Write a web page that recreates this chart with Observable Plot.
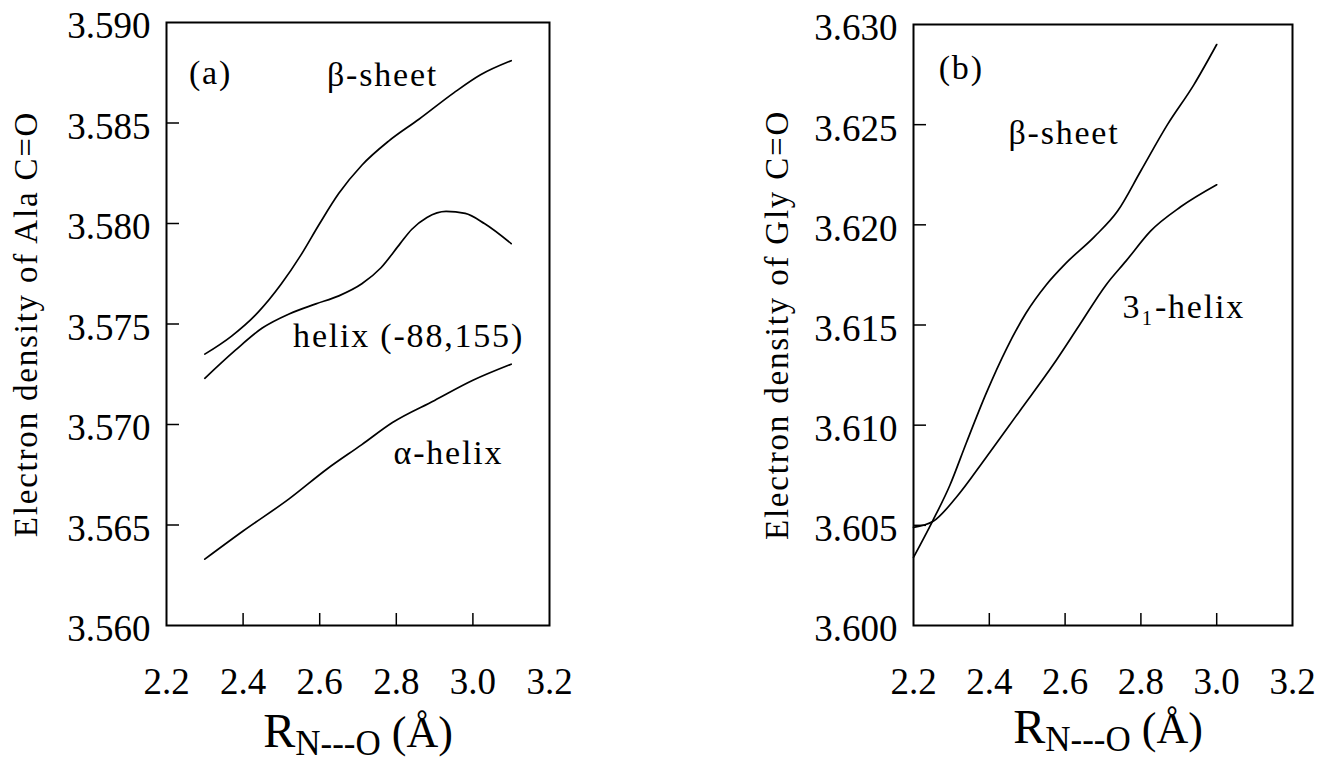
<!DOCTYPE html>
<html>
<head>
<meta charset="utf-8">
<script src="https://cdn.jsdelivr.net/npm/d3@7"></script>
<script src="https://cdn.jsdelivr.net/npm/@observablehq/plot@0.6"></script>
<style>
  html, body { margin: 0; padding: 0; background: #fff; }
  #page { position: relative; width: 1326px; height: 764px; overflow: hidden;
          font-family: "Liberation Serif", "DejaVu Serif", serif; color: #000; }
  .panel { position: absolute; top: 0; }
  #page svg g[aria-label="text"] text { letter-spacing: 1.8px; }
  .xtitle { position: absolute; white-space: nowrap; line-height: 1; font-size: 48px;
            transform: translateX(-50%); }
</style>
</head>
<body>
<div id="page"></div>
<script>
// ---------- data ----------
const xTicks = [2.2, 2.4, 2.6, 2.8, 3.0, 3.2];
const yTicksA = [3.560, 3.565, 3.570, 3.575, 3.580, 3.585, 3.590];
const yTicksB = [3.600, 3.605, 3.610, 3.615, 3.620, 3.625, 3.630];

// panel (a): Ala
const aBetaX  = [2.30, 2.37, 2.44, 2.50, 2.55, 2.60, 2.65, 2.71, 2.78, 2.86, 2.95, 3.02, 3.10];
const aBetaY  = [3.5735, 3.5744, 3.5756, 3.5770, 3.5784, 3.5800, 3.5815, 3.5829, 3.5841, 3.5852, 3.5865, 3.5874, 3.5881];
const aHelX   = [2.30, 2.38, 2.45, 2.52, 2.59, 2.65, 2.71, 2.76, 2.81, 2.84, 2.88, 2.93, 2.98, 3.03, 3.10];
const aHelY   = [3.5723, 3.5737, 3.5748, 3.5755, 3.5760, 3.5764, 3.5770, 3.5778, 3.5790, 3.5797, 3.5803, 3.5806, 3.5805, 3.5800, 3.5790];
const aAlphaX = [2.30, 2.40, 2.52, 2.62, 2.71, 2.79, 2.90, 3.00, 3.10];
const aAlphaY = [3.5633, 3.5647, 3.5663, 3.5678, 3.5690, 3.5701, 3.5712, 3.5722, 3.5730];

// panel (b): Gly
const bBetaX = [2.20, 2.25, 2.296, 2.339, 2.392, 2.445, 2.497, 2.550, 2.603, 2.677, 2.739, 2.800, 2.870, 2.940, 3.00];
const bBetaY = [3.6034, 3.6052, 3.6070, 3.6091, 3.6116, 3.6138, 3.6156, 3.6170, 3.6181, 3.6194, 3.6207, 3.6227, 3.6250, 3.6270, 3.6290];
const b31X   = [2.20, 2.252, 2.313, 2.392, 2.480, 2.568, 2.638, 2.708, 2.761, 2.826, 2.905, 3.00];
const b31Y   = [3.6049, 3.6052, 3.6064, 3.6084, 3.6107, 3.6130, 3.6150, 3.6170, 3.6182, 3.6197, 3.6209, 3.6220];

// in-plot labels
const aLabelText = ["(a)", "β-sheet", "helix (-88,155)", "α-helix"];
const aLabelX    = [2.315, 2.764, 2.832, 2.936];
const aLabelY    = [3.5875, 3.5874, 3.5744, 3.5686];
const bLabelText = ["(b)", "β-sheet", "3\u2081-helix"];
const bLabelX    = [2.326, 2.597, 2.913];
const bLabelY    = [3.6278, 3.6246, 3.6159];

const yTitleA = "Electron density of Ala C=O";
const yTitleB = "Electron density of Gly C=O";
const xTitleMain = "R", xTitleSub = "N---O", xTitleUnit = "(Å)";

// ---------- build ----------
const FONT = "'Liberation Serif', 'DejaVu Serif', serif";
const series = (name, xs, ys) => xs.map((x, i) => ({series: name, x, y: ys[i]}));
const labelRows = (t, xs, ys) => t.map((text, i) => ({text, x: xs[i], y: ys[i]}));

function panel({rows, labels, yDomain, yTicks, yTitle, width, mL, mR, mT, yTitleDx}) {
  const svg = Plot.plot({
    width, height: 700,
    marginLeft: mL, marginRight: mR, marginTop: mT, marginBottom: 75,
    x: {domain: [2.2, 3.2]},
    y: {domain: yDomain},
    style: {background: "white", color: "black", overflow: "visible"},
    marks: [
      Plot.frame({stroke: "black", strokeWidth: 2}),
      Plot.axisX(xTicks.slice(1, -1), {tickSize: 12, dy: -12, fill: "none", strokeWidth: 1.5, label: null}),
      Plot.axisX(xTicks, {tickSize: 0, tickPadding: 42, tickFormat: d3.format(".1f"), fontSize: 37, label: null}),
      Plot.axisY(yTicks.slice(1, -1), {tickSize: 13, dx: 13, fill: "none", strokeWidth: 1.5, label: null}),
      Plot.axisY(yTicks, {tickSize: 0, tickPadding: 16, tickFormat: d3.format(".3f"), fontSize: 37, dy: 4, label: null}),
      Plot.line(rows, {x: "x", y: "y", z: "series", curve: "monotone-x", stroke: "black", strokeWidth: 1.7}),
      Plot.text(labels, {x: "x", y: "y", text: "text", fontSize: 34, fill: "black"}),
      Plot.text([yTitle], {frameAnchor: "left", textAnchor: "middle", rotate: -90, dx: yTitleDx,
                           fontSize: 33, fill: "black"})
    ]
  });
  // use the serif face for every text in the SVG
  svg.setAttribute("font-family", FONT);
  svg.style.setProperty("font-family", FONT, "important");
  svg.querySelectorAll("text").forEach(t => {
    t.setAttribute("font-family", FONT);
    t.style.setProperty("font-family", FONT, "important");
  });
  return svg;
}

const page = document.getElementById("page");

const plotA = panel({
  rows: [...series("β-sheet", aBetaX, aBetaY), ...series("helix", aHelX, aHelY), ...series("α-helix", aAlphaX, aAlphaY)],
  labels: labelRows(aLabelText, aLabelX, aLabelY),
  yDomain: [3.560, 3.590], yTicks: yTicksA, yTitle: yTitleA,
  width: 663, mL: 166, mR: 114, mT: 22, yTitleDx: -140
});
const plotB = panel({
  rows: [...series("β-sheet", bBetaX, bBetaY), ...series("31-helix", b31X, b31Y)],
  labels: labelRows(bLabelText, bLabelX, bLabelY),
  yDomain: [3.600, 3.630], yTicks: yTicksB, yTitle: yTitleB,
  width: 663, mL: 250, mR: 34, mT: 24, yTitleDx: -136
});

const divA = document.createElement("div"); divA.className = "panel"; divA.style.left = "0px"; divA.append(plotA);
const divB = document.createElement("div"); divB.className = "panel"; divB.style.left = "663px"; divB.append(plotB);
page.append(divA, divB);

function xTitle(cx, top) {
  const d = document.createElement("div");
  d.className = "xtitle";
  d.style.left = cx + "px";
  d.style.top = top + "px";
  const r = document.createElement("span"); r.textContent = xTitleMain; r.style.fontSize = "48px";
  const s = document.createElement("span"); s.textContent = xTitleSub;
  s.style.fontSize = "35px"; s.style.position = "relative"; s.style.top = "8px";
  const u = document.createElement("span"); u.textContent = " " + xTitleUnit; u.style.fontSize = "44px";
  d.append(r, s, u);
  page.append(d);
}
xTitle(358, 707);
xTitle(1108, 703);
</script>
</body>
</html>
